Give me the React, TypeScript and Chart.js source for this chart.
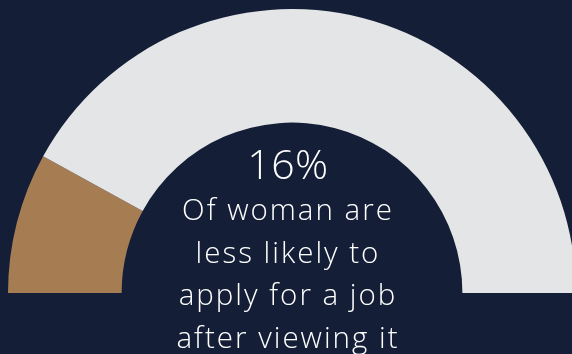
import React, { useEffect, useRef } from "react";
import { Chart, registerables } from "chart.js";

Chart.register(...registerables);

const labels = ["Less likely to apply", "Other"];
const values = [16, 84];
const colors = ["#a67d53", "#e4e5e7"];
const headline = "16%";
const captionLines = ["Of woman are", "less likely to", "apply for a job", "after viewing it"];

const BG = "#141f37";

export default function App() {
  const ref = useRef<HTMLCanvasElement | null>(null);

  useEffect(() => {
    document.body.style.margin = "0";
    document.body.style.background = BG;
    const chart = new Chart(ref.current as HTMLCanvasElement, {
      type: "doughnut",
      data: {
        labels,
        datasets: [
          {
            data: values,
            backgroundColor: colors,
            borderWidth: 0,
          },
        ],
      },
      options: {
        animation: false,
        responsive: false,
        rotation: -90,
        circumference: 180,
        cutout: "60%",
        layout: { padding: 0 },
        plugins: {
          legend: { display: false },
          tooltip: { enabled: false },
        },
      },
    });
    return () => chart.destroy();
  }, []);

  return (
    <div
      style={{
        position: "fixed",
        left: 0,
        top: 0,
        width: 572,
        height: 354,
        overflow: "hidden",
        background: BG,
      }}
    >
      <canvas
        ref={ref}
        width={568}
        height={284}
        style={{ position: "absolute", left: 8, top: 9, width: 568, height: 284 }}
      />
      <div
        style={{
          position: "absolute",
          left: 88,
          width: 400,
          top: 138,
          textAlign: "center",
          color: "#ffffff",
          fontFamily: "'Open Sans', sans-serif",
          fontWeight: 300,
        }}
      >
        <div style={{ fontSize: 41, lineHeight: "50px", letterSpacing: "0.5px" }}>{headline}</div>
        {captionLines.map((l, i) => (
          <div key={i} style={{ fontSize: 29.5, lineHeight: "42.5px", letterSpacing: "2px" }}>
            {l}
          </div>
        ))}
      </div>
    </div>
  );
}
